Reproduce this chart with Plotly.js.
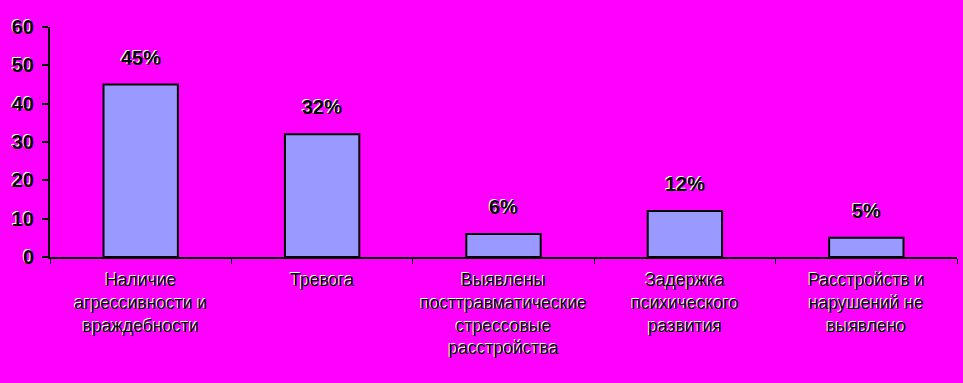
<!DOCTYPE html>
<html>
<head>
<meta charset="utf-8">
<script src="https://cdn.plot.ly/plotly-3.0.1.min.js"></script>
<style>html,body{margin:0;padding:0;background:#FF00FF;}#chart{width:963px;height:383px;}</style>
</head>
<body>
<div id="chart"></div>
<script>
const categories = [
  "Наличие<br>агрессивности и<br>враждебности",
  "Тревога",
  "Выявлены<br>посттравматические<br>стрессовые<br>расстройства",
  "Задержка<br>психического<br>развития",
  "Расстройств и<br>нарушений не<br>выявлено"
];
const values = [45, 32, 6, 12, 5];
const valueLabels = ["45%", "32%", "6%", "12%", "5%"];
const yTicks = [0, 10, 20, 30, 40, 50, 60];

const embossFont = {family: "Arial, 'Liberation Sans', sans-serif", color: "#000", weight: 700, shadow: "-1px -1px 0 #fff"};

const trace = {
  type: "bar",
  x: categories,
  y: values,
  marker: {color: "#9999FF", line: {color: "#000", width: 2}},
  hoverinfo: "skip"
};

const annotations = categories.map((c, i) => ({
  x: c, y: values[i], xref: "x", yref: "y",
  text: valueLabels[i], showarrow: false,
  yanchor: "bottom", yshift: 14,
  font: Object.assign({}, embossFont, {size: 20})
}));

const layout = {
  width: 963, height: 383,
  paper_bgcolor: "#FF00FF", plot_bgcolor: "#FF00FF",
  margin: {l: 50, r: 6, t: 27, b: 126},
  bargap: 0.59,
  showlegend: false,
  xaxis: {
    showline: true, linecolor: "#000", linewidth: 2,
    ticks: "outside", tickson: "boundaries", ticklen: 5, tickcolor: "#000", tickwidth: 1,
    tickfont: Object.assign({}, embossFont, {size: 17.5, weight: 400}),
    ticklabelstandoff: 6,
    showgrid: false, zeroline: false, fixedrange: true
  },
  yaxis: {
    range: [0, 60], tickvals: yTicks, ticktext: yTicks.map(String),
    showline: true, linecolor: "#000", linewidth: 2,
    ticks: "outside", ticklen: 6, tickcolor: "#000", tickwidth: 2,
    ticklabelstandoff: 4,
    tickfont: Object.assign({}, embossFont, {size: 20}),
    showgrid: false, zeroline: false, fixedrange: true
  },
  annotations: annotations
};

Plotly.newPlot("chart", [trace], layout, {displayModeBar: false, staticPlot: true});
</script>
</body>
</html>
